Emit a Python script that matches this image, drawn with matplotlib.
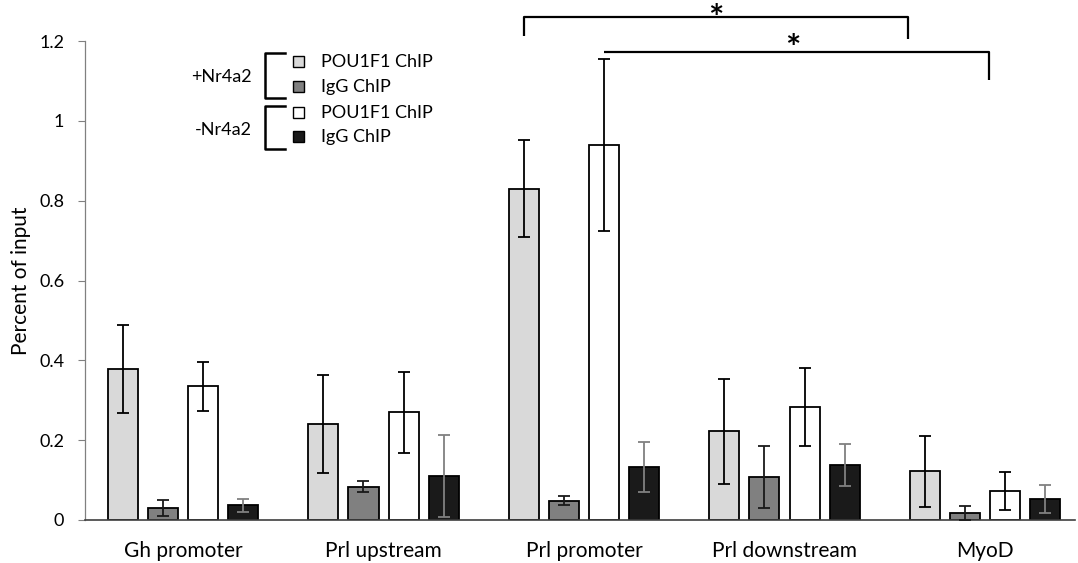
import matplotlib
matplotlib.use("Agg")
import matplotlib.pyplot as plt
import numpy as np

plt.rcParams['font.family'] = ['Lato', 'DejaVu Sans']

categories = ["Gh promoter", "Prl upstream", "Prl promoter", "Prl downstream", "MyoD"]
series_names = ["POU1F1 ChIP", "IgG ChIP", "POU1F1 ChIP", "IgG ChIP"]
groups = ["+Nr4a2", "-Nr4a2"]

plus_pou1f1 = [0.378, 0.240, 0.830, 0.222, 0.122]
plus_pou1f1_err = [0.111, 0.123, 0.121, 0.131, 0.089]
plus_igg = [0.030, 0.083, 0.048, 0.107, 0.018]
plus_igg_err = [0.021, 0.014, 0.011, 0.078, 0.017]
minus_pou1f1 = [0.335, 0.270, 0.940, 0.283, 0.072]
minus_pou1f1_err = [0.062, 0.101, 0.215, 0.097, 0.048]
minus_igg = [0.037, 0.110, 0.132, 0.138, 0.052]
minus_igg_err = [0.016, 0.102, 0.063, 0.052, 0.035]

yticks = [0, 0.2, 0.4, 0.6, 0.8, 1.0, 1.2]
ytick_labels = ["0", "0.2", "0.4", "0.6", "0.8", "1", "1.2"]

values = [plus_pou1f1, plus_igg, minus_pou1f1, minus_igg]
errors = [plus_pou1f1_err, plus_igg_err, minus_pou1f1_err, minus_igg_err]
fills = ["#d9d9d9", "#808080", "#ffffff", "#1a1a1a"]
err_colors = ["#000000", "#1a1a1a", "#000000", "#808080"]
offsets = [-0.3, -0.1, 0.1, 0.3]
width = 0.15

W, H = 1078, 563
fig = plt.figure(figsize=(W / 100, H / 100), dpi=100)
ax = fig.add_axes([85 / W, 43 / H, (1075 - 85) / W, (520 - 41) / H])

x = np.arange(len(categories))
for vals, errs, fc, ec, off in zip(values, errors, fills, err_colors, offsets):
    ax.bar(x + off, vals, width, color=fc, edgecolor="black", linewidth=1.3, zorder=2)
    ax.errorbar(x + off, vals, yerr=errs, fmt="none", ecolor=ec, elinewidth=1.3,
                capsize=4, capthick=1.3, zorder=3)

ax.set_xlim(-0.489, 4.449)
ax.set_ylim(0, 1.2)
ax.set_xticks(x)
ax.set_xticklabels(categories, fontsize=15)
ax.tick_params(axis="x", length=0, pad=15)
ax.set_yticks(yticks)
ax.set_yticklabels(ytick_labels, fontsize=13)
ax.tick_params(axis="y", length=5, width=0.8, color="#808080", pad=10)
for s in ["top", "right"]:
    ax.spines[s].set_visible(False)
ax.spines["left"].set_color("#808080")
ax.spines["left"].set_linewidth(0.9)
ax.spines["bottom"].set_color("#404040")
ax.spines["bottom"].set_linewidth(1.2)
ax.set_ylabel("Percent of input", fontsize=15, labelpad=6)

# significance brackets
lw = 1.6
b1_left = 2 + offsets[0]
b1_right = 3.615
ax.plot([b1_left, b1_left, b1_right, b1_right], [1.213, 1.261, 1.261, 1.206],
        color="black", lw=lw, clip_on=False, solid_capstyle="butt")
ax.text((b1_left + b1_right) / 2, 1.255, "*", ha="center", va="center",
        fontsize=26, fontweight="bold", clip_on=False)
b2_left = 2 + offsets[2]
b2_right = 4.02
ax.plot([b2_left, b2_right, b2_right], [1.173, 1.173, 1.103],
        color="black", lw=lw, clip_on=False, solid_capstyle="butt")
ax.text((b2_left + b2_right) / 2 - 0.02, 1.178, "*", ha="center", va="center",
        fontsize=26, fontweight="bold", clip_on=False)

# legend with +/- Nr4a2 brackets
def fx(px):
    return px / W

def fy(py):
    return 1 - py / H

legend_rows = [62, 87, 113, 137]
for row, name, fc in zip(legend_rows, series_names, fills):
    fig.patches.append(plt.Rectangle((fx(293), fy(row + 5)), 11 / W, 11 / H,
                                     transform=fig.transFigure, facecolor=fc,
                                     edgecolor="black", linewidth=1.0))
    fig.text(fx(321), fy(row), name, fontsize=13, va="center", ha="left")

for (top, bot), label, ly in zip([(53, 98), (106, 149)], groups, [77, 130]):
    fig.add_artist(plt.Line2D([fx(285), fx(265), fx(265), fx(285)],
                              [fy(top), fy(top), fy(bot), fy(bot)],
                              transform=fig.transFigure, color="black", lw=1.8))
    fig.text(fx(252), fy(ly), label, fontsize=13, va="center", ha="right")

fig.savefig("out.png", dpi=100)
